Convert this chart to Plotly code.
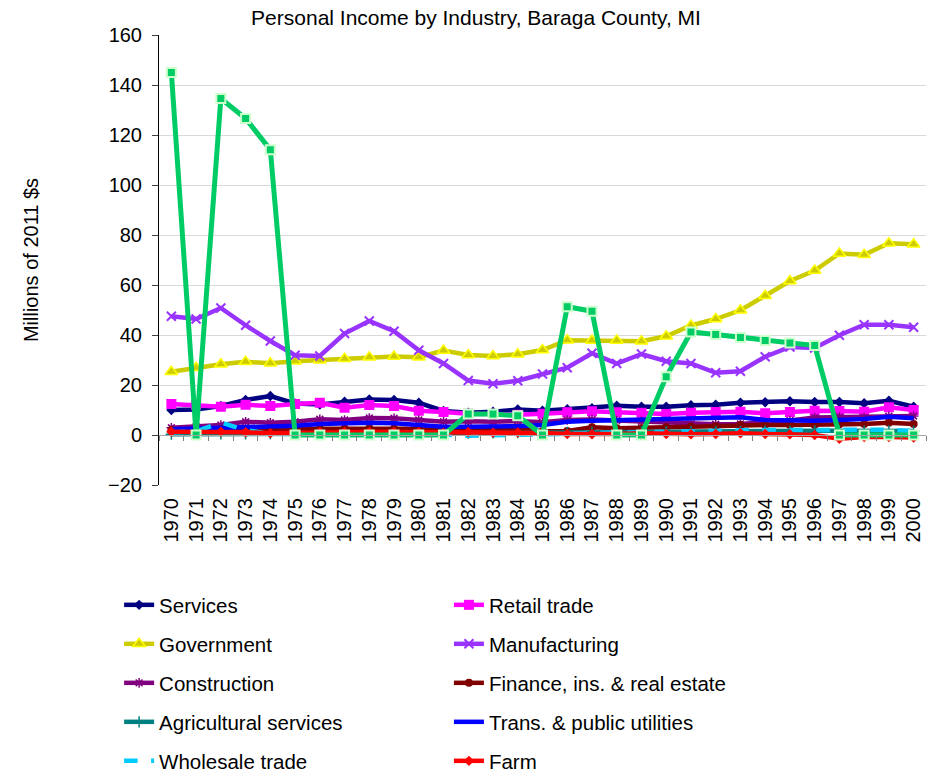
import plotly.graph_objects as go

years = [str(y) for y in range(1970, 2001)]

services = [10.0, 10.2, 11.6, 14.0, 15.6, 12.6, 12.2, 13.3, 14.2, 14.0, 12.9, 9.6, 8.9, 9.3, 10.2, 9.7,
            10.3, 10.7, 11.7, 11.3, 11.3, 11.9, 12.1, 12.9, 13.1, 13.5, 13.2, 13.2, 12.7, 13.7, 11.3]
retail = [12.4, 12.0, 11.3, 12.1, 11.6, 12.4, 12.9, 10.9, 12.0, 11.6, 9.7, 9.2, 8.5, 8.4, 8.1, 8.5,
          9.1, 9.5, 9.1, 8.9, 8.4, 8.9, 9.2, 9.3, 8.7, 9.2, 9.7, 9.6, 9.3, 11.1, 10.0]
government = [25.3, 26.9, 28.3, 29.3, 28.7, 29.5, 29.9, 30.5, 31.1, 31.4, 31.1, 33.8, 32.0, 31.6, 32.3, 34.0,
              37.9, 37.8, 37.8, 37.5, 39.5, 43.8, 46.4, 49.9, 55.7, 61.6, 65.8, 72.6, 72.1, 76.7, 76.3]
manufacturing = [47.5, 46.4, 50.8, 43.9, 37.6, 31.9, 31.6, 40.6, 45.6, 41.5, 33.9, 28.6, 21.8, 20.5, 21.7, 24.4,
                 26.9, 32.7, 28.6, 32.4, 29.5, 28.6, 24.9, 25.5, 31.3, 35.2, 34.8, 39.9, 44.1, 44.1, 43.1]
construction = [2.9, 3.3, 4.0, 5.3, 4.9, 5.3, 6.3, 6.0, 6.8, 6.7, 6.0, 5.3, 5.5, 5.3, 5.6, 5.1,
                6.0, 6.2, 5.8, 5.5, 5.0, 4.5, 4.3, 4.4, 5.0, 5.8, 7.0, 7.2, 7.0, 7.5, 7.6]
finance = [2.0, 2.0, 2.2, 2.3, 2.2, 2.3, 2.5, 2.6, 2.7, 2.6, 2.5, 2.4, 2.6, 2.5, 2.3, 1.5,
           1.6, 3.1, 2.7, 2.7, 3.1, 3.3, 3.6, 4.0, 4.0, 4.0, 4.0, 4.3, 4.4, 4.9, 4.4]
ag_services = [0.3, 0.3, 0.4, 0.4, 0.5, 0.5, 0.6, 0.6, 0.7, 0.7, 0.6, 0.6, 0.7, 0.8, 0.9, 1.0,
               1.1, 1.2, 1.2, 1.3, 1.4, 1.4, 1.5, 1.5, 1.6, 1.6, 1.7, 1.7, 1.6, 1.7, 1.6]
trans_utilities = [2.3, 2.5, 3.1, 3.3, 3.3, 3.7, 4.4, 4.7, 4.9, 4.7, 3.9, 3.3, 3.3, 3.3, 3.5, 4.0,
                   5.3, 5.7, 6.0, 6.0, 6.3, 6.7, 7.1, 7.1, 6.0, 5.7, 5.7, 6.0, 6.4, 7.3, 6.7]
wholesale = [1.0, 1.5, 5.0, 2.0, 0.5, 0.3, 0.3, 0.3, 0.2, 0.2, 0.2, 0.1, -0.3, -0.2, 0.0, 0.2,
             0.5, 0.8, 1.0, 1.2, 1.5, 1.6, 1.8, 1.9, 2.0, 2.0, 2.0, 1.8, 1.9, 2.1, 1.5]
farm = [1.3, 1.3, 1.3, 1.1, 0.7, 0.9, 1.2, 1.2, 1.2, 1.2, 1.2, 0.9, 1.2, 0.9, 1.0, 0.8,
        0.4, 0.3, 0.4, 0.7, 0.4, 0.3, 0.4, 0.7, 0.4, 0.3, 0.0, -1.5, -0.8, -0.8, -1.0]
mining = [145.0, 0.0, 134.6, 126.6, 114.1, 0.0, 0.0, 0.0, 0.0, 0.0, 0.0, 0.0, 8.4, 8.4, 7.7, 0.0,
          51.3, 49.5, 0.0, 0.0, 23.3, 41.2, 40.2, 39.0, 37.8, 36.8, 35.8, 0.0, 0.0, 0.0, 0.0]

y_ticks = [-20, 0, 20, 40, 60, 80, 100, 120, 140, 160]

FONT = "Liberation Sans, Arial, sans-serif"

# (name, values, line color, line dash, marker dict or None)
series = [
    ("Services", services, "#000080", "solid",
     dict(symbol="diamond", size=8, color="#000080")),
    ("Retail trade", retail, "#FF00FF", "solid",
     dict(symbol="square", size=10, color="#FF00FF")),
    ("Government", government, "#CCCC00", "solid",
     dict(symbol="triangle-up", size=11, color="#CCCC00", line=dict(color="#FFFF00", width=1.5))),
    ("Manufacturing", manufacturing, "#9933FF", "solid",
     dict(symbol="x-thin", size=9, color="#9933FF", line=dict(color="#9933FF", width=2))),
    ("Construction", construction, "#800080", "solid",
     dict(symbol="asterisk", size=8, color="#800080", line=dict(color="#800080", width=1.5))),
    ("Finance, ins. & real estate", finance, "#800000", "solid",
     dict(symbol="circle", size=8, color="#800000")),
    ("Agricultural services", ag_services, "#008080", "solid",
     dict(symbol="cross-thin", size=8, color="#008080", line=dict(color="#008080", width=1.5))),
    ("Trans. & public utilities", trans_utilities, "#0000FF", "solid", None),
    ("Wholesale trade", wholesale, "#00CCFF", "dash", None),
    ("Farm", farm, "#FF0000", "solid",
     dict(symbol="diamond", size=8, color="#FF0000")),
]

fig = go.Figure()

# legend placement: two columns, five rows (pixel rows converted to paper units)
col_x = [-0.052, 0.378]
row_px = [605, 644, 683, 722, 761]
row_y = [(485 - p) / 450 for p in row_px]

layout_legends = {}
for i, (name, vals, color, dash, marker) in enumerate(series):
    lkey = "legend" if i == 0 else f"legend{i + 1}"
    mode = "lines+markers" if marker else "lines"
    kw = dict(marker=marker) if marker else {}
    fig.add_trace(go.Scatter(
        x=years, y=vals, name=name, mode=mode,
        line=dict(color=color, width=4.5, dash=dash),
        legend=lkey, **kw))
    col = i % 2
    row = i // 2
    layout_legends[lkey] = dict(
        x=col_x[col], y=row_y[row], xanchor="left", yanchor="middle",
        bgcolor="rgba(0,0,0,0)", borderwidth=0,
        font=dict(family=FONT, size=20.5, color="#000000"),
        orientation="v", itemwidth=30)

fig.add_trace(go.Scatter(
    x=years, y=mining, name="Mining", mode="lines+markers",
    line=dict(color="#00CC66", width=5),
    marker=dict(symbol="square", size=9, color="#00CC66", line=dict(color="#CCFFCC", width=2)),
    showlegend=False))

# helper (invisible) trace to carry the category axis drawn at y = 0
fig.add_trace(go.Scatter(
    x=years, y=[None] * len(years), xaxis="x2", mode="lines",
    showlegend=False, hoverinfo="skip"))

fig.update_layout(
    width=930, height=776,
    margin=dict(l=159, r=4, t=35, b=291, autoexpand=False),
    paper_bgcolor="#FFFFFF", plot_bgcolor="#FFFFFF",
    font=dict(family=FONT, color="#000000"),
    title=dict(text="Personal Income by Industry, Baraga County, MI",
               x=476 / 930, xref="container", xanchor="center",
               y=1 - 18 / 776, yref="container", yanchor="middle",
               font=dict(family=FONT, size=21, color="#000000")),
    xaxis=dict(type="category", range=[-0.5, 30.5], showline=False, showgrid=False,
               ticks="", tickangle=-90, ticklabelstandoff=8,
               tickfont=dict(family=FONT, size=20, color="#000000")),
    xaxis2=dict(type="category", overlaying="x", matches="x", anchor="free",
                position=20 / 180, side="bottom",
                showline=True, linecolor="#A6A6A6", linewidth=1,
                ticks="outside", ticklen=5, tickcolor="#808080", tickwidth=1,
                tickson="boundaries", showticklabels=False, showgrid=False),
    yaxis=dict(range=[-20, 160], tickvals=y_ticks, showline=True, linecolor="#000000", linewidth=1,
               ticks="outside", ticklen=6, tickcolor="#404040",
               showgrid=True, gridcolor="#D9D9D9", gridwidth=1, zeroline=False,
               ticklabelstandoff=6,
               tickfont=dict(family=FONT, size=20, color="#000000"),
               title=dict(text="Millions of 2011 $s", standoff=64,
                          font=dict(family=FONT, size=20, color="#000000"))),
    **layout_legends,
)

fig.write_html("out.html", config={"displayModeBar": False},
               post_script="document.body.style.margin='0px';document.body.style.padding='0px';")
